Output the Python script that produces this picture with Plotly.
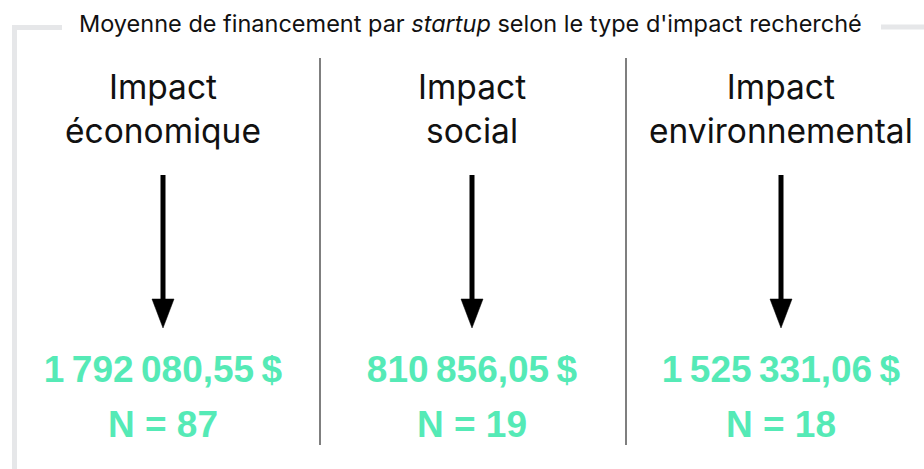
import plotly.graph_objects as go

# ---- data ----
categories = ["Impact<br>économique", "Impact<br>social", "Impact<br>environnemental"]
montants = [1792080.55, 810856.05, 1525331.06]
effectifs = [87, 19, 18]
titre = "Moyenne de financement par <i>startup</i> selon le type d'impact recherché"

GREEN = "#55EAB6"
FRAME = "#E6E7E9"

def fmt_fr(v):
    s = f"{v:,.2f}"
    ent, dec = s.split(".")
    ent = ent.replace(",", "\u202f")
    return f"{ent},{dec}\u202f$"

xs = list(range(len(categories)))

fig = go.Figure()

# arrows: shafts + heads
for i in xs:
    fig.add_trace(go.Scatter(x=[i, i], y=[175, 303], mode="lines",
                             line=dict(color="black", width=5),
                             hoverinfo="skip", showlegend=False))
    hw = 11 / 309
    fig.add_trace(go.Scatter(x=[i - hw, i + hw, i, i - hw], y=[299, 299, 328, 299],
                             mode="lines", fill="toself", fillcolor="black",
                             line=dict(color="black", width=0.5),
                             hoverinfo="skip", showlegend=False))

# values
fig.add_trace(go.Scatter(x=xs, y=[373] * 3, mode="text",
                         text=[f"<b>{fmt_fr(v)}</b>" for v in montants],
                         textfont=dict(color=GREEN, size=37, family="Liberation Sans"),
                         hoverinfo="skip", showlegend=False))
fig.add_trace(go.Scatter(x=xs, y=[428] * 3, mode="text",
                         text=[f"<b>N = {n}</b>" for n in effectifs],
                         textfont=dict(color=GREEN, size=37, family="Liberation Sans"),
                         hoverinfo="skip", showlegend=False))

# headings
for i, c in zip(xs, categories):
    fig.add_annotation(x=i, y=109, xref="x", yref="y", text=c, showarrow=False,
                       font=dict(size=33.5, color="#111111", family="Inter"),
                       xanchor="center", yanchor="middle", align="center")

# title
fig.add_annotation(x=470 / 924, y=1 - 24 / 469, xref="paper", yref="paper", text=titre,
                   showarrow=False, font=dict(size=23.5, color="#111111", family="Inter"),
                   xanchor="center", yanchor="middle")

# frame
shapes = [
    dict(type="line", xref="paper", yref="paper", x0=14.5 / 924, x1=14.5 / 924,
         y0=1 - 25 / 469, y1=0, line=dict(color=FRAME, width=5)),
    dict(type="line", xref="paper", yref="paper", x0=12 / 924, x1=62 / 924,
         y0=1 - 27.5 / 469, y1=1 - 27.5 / 469, line=dict(color=FRAME, width=5)),
    dict(type="line", xref="paper", yref="paper", x0=881 / 924, x1=1,
         y0=1 - 27 / 469, y1=1 - 27 / 469, line=dict(color=FRAME, width=5)),
    dict(type="line", xref="paper", yref="y", x0=320 / 924, x1=320 / 924,
         y0=58, y1=445, line=dict(color="#555555", width=1.5)),
    dict(type="line", xref="paper", yref="y", x0=626 / 924, x1=626 / 924,
         y0=58, y1=445, line=dict(color="#555555", width=1.5)),
]

fig.update_layout(
    width=924, height=469,
    margin=dict(l=0, r=0, t=0, b=0),
    paper_bgcolor="white", plot_bgcolor="white",
    shapes=shapes,
    xaxis=dict(range=[-163 / 309, (924 - 163) / 309], visible=False, fixedrange=True),
    yaxis=dict(range=[469, 0], visible=False, fixedrange=True),
    showlegend=False,
)

fig.write_html("out.html", config={"displayModeBar": False},
               post_script="document.body.style.margin='0';document.body.style.overflow='hidden';")
